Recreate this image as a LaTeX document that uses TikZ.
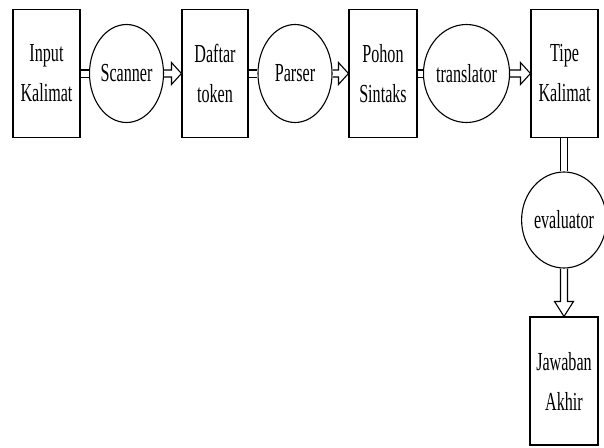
\documentclass[tikz,border=0pt]{standalone}
\usepackage{fontspec}
\setmainfont{Liberation Serif}[FakeStretch=0.62]
\usetikzlibrary{shapes.geometric}

\begin{document}
\begin{tikzpicture}[x=1pt,y=-1pt,
		every node/.style={font=\fontsize{26}{40}\selectfont,align=center,inner sep=0pt},
		stage/.style={draw,line width=1.1pt,minimum width=67pt,minimum height=128pt},
		worker/.style={draw,ellipse,line width=1.1pt,minimum height=98pt},
		link/.style={double,double distance=6pt,line width=1.1pt},
		pipe/.style={line width=1.1pt,line join=miter}]
			\useasboundingbox (0,0) rectangle (604,447);
			\node[stage] (inp) at (46.5,73.5) {Input\\Kalimat};
			\node[worker,minimum width=74pt] (scan) at (126.5,73.5) {Scanner};
			\node[stage,minimum width=66pt] (daf) at (215,73.5) {Daftar\\token};
			\node[worker,minimum width=74pt] (pars) at (295,73.5) {Parser};
			\node[stage,minimum width=68pt] (poh) at (383,73.5) {Pohon\\Sintaks};
			\node[worker,minimum width=83pt] (trans) at (466.5,73.5) {translator};
			\node[stage] (tipe) at (564.5,73.5) {Tipe\\Kalimat};
			\node[worker,minimum width=78pt,minimum height=96pt] (eval) at (564,220) {evaluator};
			\node[stage,minimum width=68pt] (jaw) at (564,381) {Jawaban\\Akhir};
			\draw[link] (inp) -- (scan);
			\draw[link] (daf) -- (pars);
			\draw[link] (poh) -- (trans);
			\draw[link] (tipe.south -| eval.north) -- (eval.north);
			\draw[pipe] ([yshift=3.5pt]scan.east) -- ([xshift=-10pt,yshift=3.5pt]daf.west) -- ([xshift=-10pt,yshift=11pt]daf.west) -- (daf.west) -- ([xshift=-10pt,yshift=-11pt]daf.west) -- ([xshift=-10pt,yshift=-3.5pt]daf.west) -- ([yshift=-3.5pt]scan.east);
			\draw[pipe] ([yshift=3.5pt]pars.east) -- ([xshift=-10pt,yshift=3.5pt]poh.west) -- ([xshift=-10pt,yshift=11pt]poh.west) -- (poh.west) -- ([xshift=-10pt,yshift=-11pt]poh.west) -- ([xshift=-10pt,yshift=-3.5pt]poh.west) -- ([yshift=-3.5pt]pars.east);
			\draw[pipe] ([yshift=3.5pt]trans.east) -- ([xshift=-10pt,yshift=3.5pt]tipe.west) -- ([xshift=-10pt,yshift=11pt]tipe.west) -- (tipe.west) -- ([xshift=-10pt,yshift=-11pt]tipe.west) -- ([xshift=-10pt,yshift=-3.5pt]tipe.west) -- ([yshift=-3.5pt]trans.east);
			\draw[pipe] ([xshift=-3.5pt]eval.south) -- ([xshift=-3.5pt,yshift=15pt]jaw.north) -- ([xshift=-9.5pt,yshift=15pt]jaw.north) -- (jaw.north) -- ([xshift=9.5pt,yshift=15pt]jaw.north) -- ([xshift=3.5pt,yshift=15pt]jaw.north) -- ([xshift=3.5pt]eval.south);
		\end{tikzpicture}
\end{document}
